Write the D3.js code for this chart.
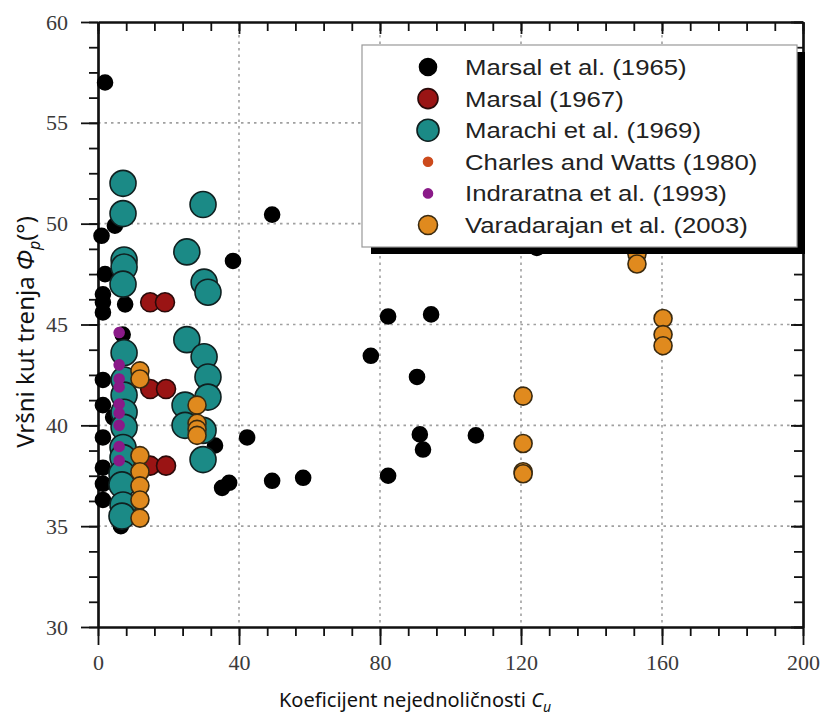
<!DOCTYPE html>
<html>
<head>
<meta charset="utf-8">
<script src="https://cdn.jsdelivr.net/npm/d3@7"></script>
<style>
  body { margin: 0; background: #fff; }
  svg { display: block; }
  .tick text { font-family: "Liberation Serif", "DejaVu Serif", serif; }
</style>
</head>
<body>
<div id="vis"></div>
<script>

////////////////////////////////////////
/////////////// Data ///////////////////
////////////////////////////////////////

// [Cu, peak friction angle]
const marsal1965 = [
  [2, 57], [1, 49.4], [4.8, 49.9], [2, 47.5], [1.4, 46.5], [1.4, 46.1], [1.4, 45.6],
  [7.7, 46.0], [7, 44.5], [1.4, 42.25], [1.4, 41.0], [4.3, 40.4], [1.4, 39.4],
  [1.4, 37.9], [1.4, 37.1], [1.4, 36.3], [6.5, 35.0],
  [38.3, 48.15], [49.4, 50.45], [33.2, 39.0], [42.3, 39.4], [35.2, 36.9], [37.2, 37.15],
  [49.4, 37.25], [58.2, 37.4], [82.3, 37.5], [91.3, 39.55], [92.2, 38.8], [107.2, 39.5],
  [77.4, 43.45], [82.3, 45.4], [94.5, 45.5], [90.5, 42.4], [124.5, 48.8]
];

const marsal1967 = [
  [14.8, 46.1], [19, 46.1], [14.8, 41.8], [19.3, 41.8], [14.8, 38.0], [19.3, 38.0]
];

const marachi1969 = [
  [7.1, 52.0], [7.1, 50.5], [7.4, 48.2], [7.4, 47.85], [7.1, 47.0],
  [7.4, 43.6], [7.4, 42.25], [7.4, 41.5], [7.4, 40.65], [7.4, 39.9], [7.1, 38.9],
  [7.1, 38.4], [6.8, 37.6], [6.8, 37.05], [7.1, 36.05], [6.8, 35.5],
  [29.8, 50.95], [25.2, 48.6], [30.1, 47.1], [31.2, 46.6],
  [25.2, 44.25], [30.1, 43.4], [31.2, 42.4], [31.2, 41.4], [24.7, 41.0], [24.7, 40.0],
  [29.8, 39.75], [29.8, 38.3]
];

const charlesWatts1980 = [];

const indraratna1993 = [
  [6, 44.6], [6, 43.0], [6, 42.3], [6, 41.9], [6, 41.05], [6, 40.6], [6, 40.0],
  [6, 38.95], [6, 38.25]
];

const varadarajan2003 = [
  [11.9, 42.7], [11.9, 42.3], [11.9, 38.5], [11.9, 37.7], [11.9, 37.0], [11.9, 36.3],
  [11.9, 35.4], [28.1, 41.0], [28.1, 40.1], [28.1, 39.8], [28.1, 39.5],
  [120.6, 41.45], [120.6, 39.1], [120.6, 37.7], [120.6, 37.6],
  [160.3, 45.3], [160.3, 44.5], [160.3, 43.95], [152.9, 48.5], [152.9, 48.0]
];

const seriesNames = [
  "Marsal et al. (1965)", "Marsal  (1967)", "Marachi et al. (1969)",
  "Charles and Watts (1980)", "Indraratna et al. (1993)", "Varadarajan et al. (2003)"
];

const xMajor = [0, 40, 80, 120, 160, 200];
const yMajor = [30, 35, 40, 45, 50, 55, 60];

////////////////////////////////////////
/////////////// Options ////////////////
////////////////////////////////////////

const options = {
  width: 825,
  height: 724,
  margin: { top: 22, right: 22, bottom: 97, left: 98 },
  labelFont: "Noto Sans, Open Sans, sans-serif",
  legendFont: "Liberation Sans, Arial, sans-serif"
};

const styles = [
  { fill: "#000", stroke: "#000", r: 7.5, lr: 8.5 },
  { fill: "#9a1414", stroke: "#2a0a0a", r: 9.5, lr: 10 },
  { fill: "#1b8a86", stroke: "#102020", r: 13, lr: 11 },
  { fill: "#cc4a1c", stroke: "#cc4a1c", r: 4.5, lr: 4.5 },
  { fill: "#8a1a88", stroke: "#8a1a88", r: 5, lr: 4.5 },
  { fill: "#e08a1e", stroke: "#3a2a10", r: 9, lr: 9.5 }
];

const allSeries = [marsal1965, marsal1967, marachi1969, charlesWatts1980, indraratna1993, varadarajan2003];

////////////////////////////////////////
////////////// SVG Setup ///////////////
////////////////////////////////////////

const svg = d3.select("#vis").append("svg")
  .attr("width", options.width)
  .attr("height", options.height);

const x0 = options.margin.left,
  x1 = options.width - options.margin.right,
  y0 = options.height - options.margin.bottom,
  y1 = options.margin.top;

const x = d3.scaleLinear().domain([0, 200]).range([x0, x1]);
const y = d3.scaleLinear().domain([30, 60]).range([y0, y1]);

const xMinor = d3.range(0, 200.01, 8);
const yMinor = d3.range(30, 60.01, 1.25);

////////////////////////////////////////
////////////// Grid ////////////////////
////////////////////////////////////////

const grid = svg.append("g")
  .attr("stroke", "#a0a0a0")
  .attr("stroke-width", 1.6)
  .attr("stroke-dasharray", "2.5,4");

grid.selectAll(".gx")
  .data(xMajor.slice(1, -1))
  .join("line")
  .attr("x1", d => x(d)).attr("x2", d => x(d))
  .attr("y1", y1).attr("y2", y0);

grid.selectAll(".gy")
  .data(yMajor.slice(1, -1))
  .join("line")
  .attr("y1", d => y(d)).attr("y2", d => y(d))
  .attr("x1", x0).attr("x2", x1);

////////////////////////////////////////
////////////// Axes ////////////////////
////////////////////////////////////////

function styleAxis(g) {
  g.attr("font-family", null);
  g.select(".domain").attr("stroke-width", 2.2).attr("stroke", "#111");
  g.selectAll(".tick line").attr("stroke-width", 1.8).attr("stroke", "#111");
  g.selectAll("text")
    .style("font-family", "'Liberation Serif', 'DejaVu Serif', serif")
    .style("font-size", "22px")
    .attr("fill", "#3a3a3a");
}

// minor ticks
svg.append("g").attr("transform", `translate(0,${y0})`)
  .call(d3.axisBottom(x).tickValues(xMinor).tickSize(9).tickFormat("").tickSizeOuter(0))
  .call(styleAxis);
svg.append("g").attr("transform", `translate(0,${y1})`)
  .call(d3.axisTop(x).tickValues(xMinor).tickSize(-9).tickFormat("").tickSizeOuter(0))
  .call(styleAxis);
svg.append("g").attr("transform", `translate(${x0},0)`)
  .call(d3.axisLeft(y).tickValues(yMinor).tickSize(9).tickFormat("").tickSizeOuter(0))
  .call(styleAxis);
svg.append("g").attr("transform", `translate(${x1},0)`)
  .call(d3.axisRight(y).tickValues(yMinor).tickSize(-9).tickFormat("").tickSizeOuter(0))
  .call(styleAxis);

// major ticks with labels
svg.append("g").attr("transform", `translate(0,${y0})`)
  .call(d3.axisBottom(x).tickValues(xMajor).tickSize(18).tickPadding(9).tickSizeOuter(0))
  .call(styleAxis);
svg.append("g").attr("transform", `translate(${x0},0)`)
  .call(d3.axisLeft(y).tickValues(yMajor).tickSize(17).tickPadding(13).tickSizeOuter(0))
  .call(styleAxis);
svg.append("g").attr("transform", `translate(0,${y1})`)
  .call(d3.axisTop(x).tickValues(xMajor).tickSize(-12).tickFormat("").tickSizeOuter(0))
  .call(styleAxis);
svg.append("g").attr("transform", `translate(${x1},0)`)
  .call(d3.axisRight(y).tickValues(yMajor).tickSize(-12).tickFormat("").tickSizeOuter(0))
  .call(styleAxis);

////////////////////////////////////////
////////////// Points //////////////////
////////////////////////////////////////

allSeries.forEach((data, i) => {
  const s = styles[i];
  svg.append("g")
    .selectAll("circle")
    .data(data)
    .join("circle")
    .attr("cx", d => x(d[0]))
    .attr("cy", d => y(d[1]))
    .attr("r", s.r)
    .attr("fill", s.fill)
    .attr("stroke", s.stroke)
    .attr("stroke-width", 1.6);
});

////////////////////////////////////////
////////////// Labels //////////////////
////////////////////////////////////////

const xt = svg.append("text")
  .attr("x", 415)
  .attr("y", 707)
  .attr("text-anchor", "middle")
  .attr("font-family", options.labelFont)
  .attr("font-size", 20)
  .attr("fill", "#111");
xt.append("tspan").text("Koeficijent nejednoličnosti ");
xt.append("tspan").attr("font-style", "italic").text("C");
xt.append("tspan").attr("font-style", "italic").attr("font-size", 14).attr("dy", 5).text("u");

const yt = svg.append("text")
  .attr("transform", `translate(34,${332}) rotate(-90)`)
  .attr("text-anchor", "middle")
  .attr("font-family", options.labelFont)
  .attr("font-size", 24)
  .attr("fill", "#111");
yt.append("tspan").text("Vršni kut trenja  ");
yt.append("tspan").attr("font-style", "italic").text("Φ");
yt.append("tspan").attr("font-style", "italic").attr("font-size", 16).attr("dy", 6).text("p");
yt.append("tspan").attr("dy", -6).text("(°)");

////////////////////////////////////////
////////////// Legend //////////////////
////////////////////////////////////////

const legend = svg.append("g");

legend.append("rect")
  .attr("x", 371).attr("y", 52)
  .attr("width", 434).attr("height", 202)
  .attr("fill", "#000");

legend.append("rect")
  .attr("x", 362).attr("y", 45)
  .attr("width", 435).attr("height", 202)
  .attr("fill", "#fff")
  .attr("stroke", "#999")
  .attr("stroke-width", 1.2);

const rows = legend.selectAll(".row")
  .data(seriesNames)
  .join("g")
  .attr("transform", (d, i) => `translate(428,${67 + i * 31.6})`);

rows.append("circle")
  .attr("r", (d, i) => styles[i].lr)
  .attr("fill", (d, i) => styles[i].fill)
  .attr("stroke", (d, i) => styles[i].stroke)
  .attr("stroke-width", 1.6);

rows.append("text")
  .attr("transform", "translate(37,0) scale(1.17,1)")
  .attr("dy", "0.36em")
  .attr("font-family", options.legendFont)
  .attr("font-size", 22)
  .attr("fill", "#222")
  .text(d => d);

</script>
</body>
</html>
